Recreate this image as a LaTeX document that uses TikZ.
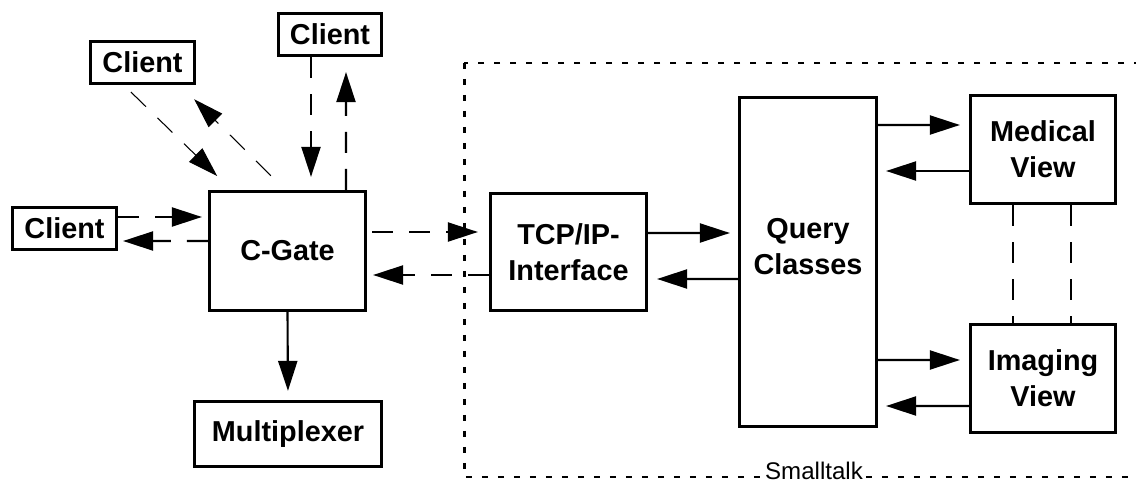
\documentclass[tikz,border=0pt]{standalone}
\usepackage{fontspec}
\setmainfont{Liberation Sans}
\usepackage{tikz}
\usetikzlibrary{arrows.meta}

\begin{document}
\begin{tikzpicture}[
		box/.style={draw, line width=1.8pt, inner sep=0pt, align=center, font=\fontsize{16.4}{20.4}\selectfont\bfseries},
		arr/.style={line width=1.2pt, -{Triangle[length=0.6cm,width=0.38cm]}},
		dsh/.style={dash pattern=on 0.42cm off 0.32cm}
	]
		\useasboundingbox (0,0) rectangle (22.72,-9.68);
		% smalltalk frame
		\draw[line width=1.7pt, dash pattern=on 0.12cm off 0.2cm] (9.28,-1.26) rectangle (23.6,-9.54);
		\node[fill=white, inner xsep=1pt, inner ysep=0pt, font=\fontsize{13.7}{16}\selectfont] (st) at (16.28,-9.42) {Smalltalk};
		% boxes
		\node[box, minimum width=2.06cm, minimum height=0.84cm] (ctop) at (6.6,-0.69) {Client};
		\node[box, minimum width=2.08cm, minimum height=0.84cm] (cmid) at (2.85,-1.25) {Client};
		\node[box, minimum width=2.08cm, minimum height=0.84cm] (cleft) at (1.29,-4.57) {Client};
		\node[box, minimum width=3.12cm, minimum height=2.38cm] (cgate) at (5.75,-5.02) {C-Gate};
		\node[box, minimum width=3.74cm, minimum height=1.3cm] (mux) at (5.76,-8.68) {Multiplexer};
		\node[box, minimum width=3.12cm, minimum height=2.34cm] (tcp) at (11.37,-5.04) {TCP/IP-\\Interface};
		\node[box, minimum width=2.74cm, minimum height=6.58cm,
			label={[name=qlabel, align=center, font=\fontsize{16.4}{20.4}\selectfont\bfseries, yshift=0.3cm]center:Query\\Classes}] (query) at (16.16,-5.24) {};
		\node[box, minimum width=2.9cm, minimum height=2.16cm] (med) at (20.86,-2.99) {Medical\\View};
		\node[box, minimum width=2.9cm, minimum height=2.16cm] (img) at (20.86,-7.57) {Imaging\\View};
		% query classes and views
		\draw[arr, shorten >=0.18cm] ([yshift=2.74cm]query.east) -- ([yshift=0.49cm]med.west);
		\draw[arr, shorten >=0.16cm] ([yshift=-0.43cm]med.west) -- ([yshift=1.82cm]query.east);
		\draw[arr, shorten >=0.18cm] ([yshift=-1.96cm]query.east) -- ([yshift=0.37cm]img.west);
		\draw[arr, shorten >=0.16cm] ([yshift=-0.55cm]img.west) -- ([yshift=-2.88cm]query.east);
		\draw[line width=1.2pt, dsh] ([xshift=-0.6cm]med.south) -- ([xshift=-0.6cm]img.north);
		\draw[line width=1.2pt, dsh] ([xshift=0.56cm]med.south) -- ([xshift=0.56cm]img.north);
		% tcp/ip
		\draw[arr, shorten >=0.16cm] ([yshift=0.38cm]tcp.east) -- ([yshift=0.58cm]query.west);
		\draw[arr, shorten >=0.18cm] ([yshift=-0.34cm]query.west) -- ([yshift=-0.54cm]tcp.east);
		\draw[arr, dsh, shorten <=0.1cm, shorten >=0.22cm] ([yshift=0.38cm]cgate.east) -- ([yshift=0.4cm]tcp.west);
		\draw[arr, dsh, shorten >=0.12cm] ([yshift=-0.46cm]tcp.west) -- ([yshift=-0.48cm]cgate.east);
		% clients
		\draw[arr, dsh, shorten >=0.12cm] ([yshift=0.23cm]cleft.east) -- ([yshift=0.68cm]cgate.west);
		\draw[arr, dsh, shorten >=0.1cm] ([yshift=0.2cm]cgate.west) -- ([yshift=-0.25cm]cleft.east);
		\draw[arr, dsh, shorten >=0.26cm] ([xshift=-0.38cm]ctop.south) -- ([xshift=0.47cm]cgate.north);
		\draw[arr, dsh, shorten >=0.3cm] ([xshift=1.17cm]cgate.north) -- ([xshift=0.32cm]ctop.south);
		\draw[arr, line width=0.6pt, dsh, shorten <=0.2cm, shorten >=0.4cm] ([xshift=-0.375cm]cmid.south) -- ([xshift=-1.12cm]cgate.north);
		\draw[arr, line width=0.6pt, dsh, shorten <=0.4cm, shorten >=0.4cm] ([xshift=-0.05cm]cgate.north) -- ([xshift=0.75cm]cmid.south);
		% multiplexer
		\draw[arr, shorten >=0.18cm] (cgate.south) -- (mux.north);
	\end{tikzpicture}
\end{document}
